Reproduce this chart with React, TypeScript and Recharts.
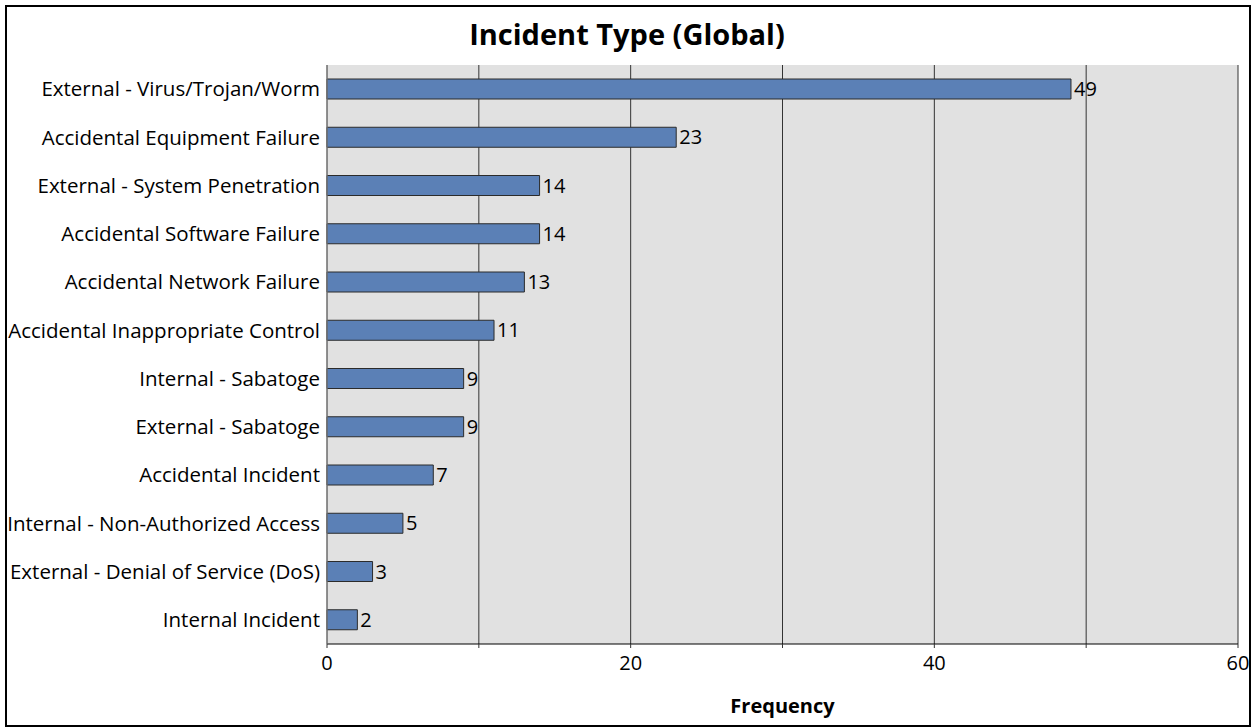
import { BarChart, Bar, XAxis, YAxis, CartesianGrid, LabelList } from 'recharts'

const CATEGORIES = [
  'External - Virus/Trojan/Worm',
  'Accidental Equipment Failure',
  'External - System Penetration',
  'Accidental Software Failure',
  'Accidental Network Failure',
  'Accidental Inappropriate Control',
  'Internal - Sabatoge',
  'External - Sabatoge',
  'Accidental Incident',
  'Internal - Non-Authorized Access',
  'External - Denial of Service (DoS)',
  'Internal Incident',
]

const COUNTS = [49, 23, 14, 14, 13, 11, 9, 9, 7, 5, 3, 2]

const X_TICKS = [0, 10, 20, 30, 40, 50, 60]
const X_LABELED = [0, 20, 40, 60]

const FONT = '"Open Sans", Lato, sans-serif'

const data = CATEGORIES.map((name, i) => ({ name, count: COUNTS[i] }))

export default function App() {
  return (
    <div
      style={{
        position: 'absolute',
        left: 0,
        top: 0,
        width: 1254,
        height: 728,
        background: '#fff',
        fontFamily: FONT,
      }}
    >
      <div
        style={{
          position: 'absolute',
          left: 5,
          top: 5,
          width: 1242,
          height: 718,
          border: '2px solid #000',
        }}
      />
      <div
        style={{
          position: 'absolute',
          left: 0,
          top: 14,
          width: 1254,
          textAlign: 'center',
          fontSize: 29,
          fontWeight: 'bold',
          color: '#000',
        }}
      >
        Incident Type (Global)
      </div>
      <div style={{ position: 'absolute', left: 0, top: 0 }}>
        <BarChart
          width={1254}
          height={728}
          data={data}
          layout="vertical"
          margin={{ top: 65, right: 16, bottom: 54, left: 0 }}
          barSize={20}
        >
          <CartesianGrid
            horizontal={false}
            vertical
            fill="#e1e1e1"
            stroke="#333"
            strokeOpacity={1}
          />
          <XAxis
            type="number"
            domain={[0, 60]}
            ticks={X_TICKS}
            interval={0}
            height={30}
            axisLine={{ stroke: '#000' }}
            tickLine={{ stroke: '#333' }}
            tickSize={4}
            tickMargin={8}
            tick={{ fill: '#000', fontSize: 20, fontFamily: FONT }}
            tickFormatter={(v: number) => (X_LABELED.includes(v) ? String(v) : '')}
            label={{
              value: 'Frequency',
              position: 'insideBottom',
              offset: -39,
              fill: '#000',
              fontSize: 20,
              fontWeight: 'bold',
              fontFamily: FONT,
            }}
          />
          <XAxis
            xAxisId="top"
            type="number"
            orientation="top"
            domain={[0, 60]}
            height={0}
            tick={false}
            tickLine={false}
            axisLine={{ stroke: '#000' }}
          />
          <YAxis
            type="category"
            dataKey="name"
            width={327}
            interval={0}
            axisLine={{ stroke: '#888' }}
            tickLine={false}
            tickSize={0}
            tickMargin={7}
            tick={{ fill: '#000', fontSize: 20.5, fontFamily: FONT }}
          />
          <Bar
            dataKey="count"
            fill="#5b80b6"
            stroke="#2b2b2b"
            strokeWidth={1}
            isAnimationActive={false}
          >
            <LabelList
              dataKey="count"
              position="right"
              offset={3}
              fill="#000"
              fontSize={20}
              fontFamily={FONT}
            />
          </Bar>
        </BarChart>
      </div>
    </div>
  )
}
